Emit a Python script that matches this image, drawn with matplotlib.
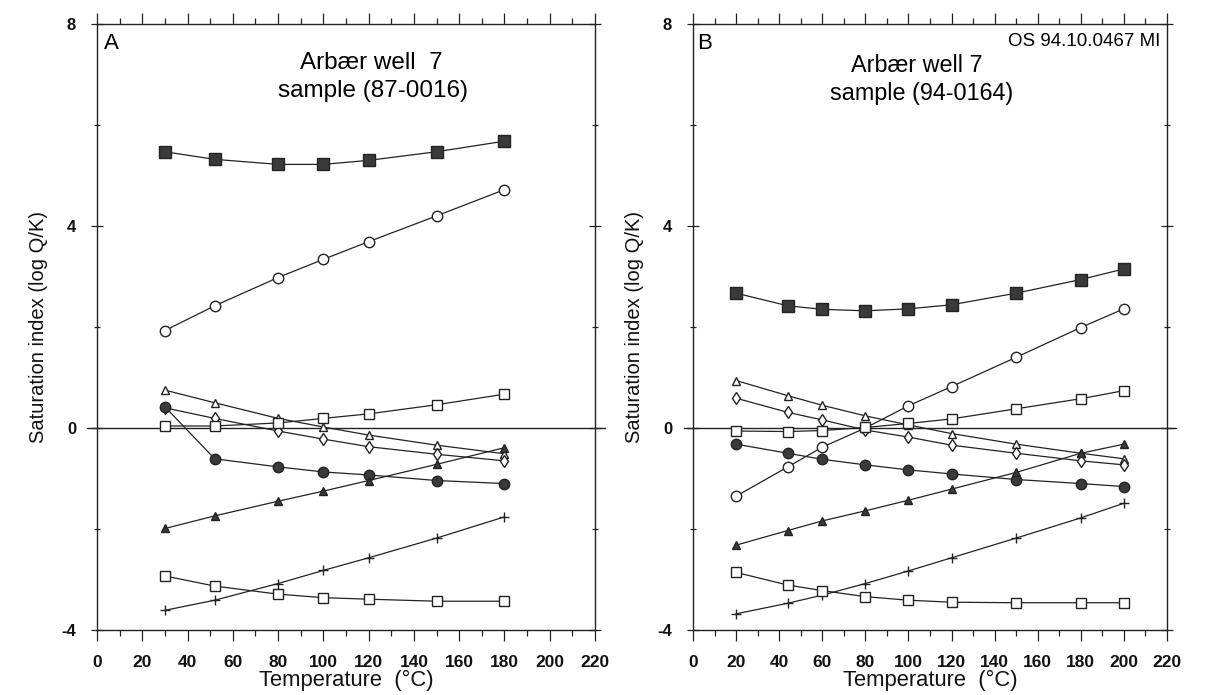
import matplotlib
matplotlib.use("Agg")
import matplotlib.pyplot as plt
from matplotlib.ticker import MultipleLocator

plt.rcParams['font.family'] = ['Liberation Sans', 'DejaVu Sans']
plt.rcParams['axes.unicode_minus'] = False

# panel A: sample 87-0016
temp_a = [30, 52, 80, 100, 120, 150, 180]
a_sq_filled = [5.47, 5.32, 5.22, 5.22, 5.30, 5.47, 5.68]
a_circ_open = [1.93, 2.42, 2.98, 3.34, 3.69, 4.20, 4.72]
a_tri_open = [0.75, 0.50, 0.19, 0.02, -0.14, -0.34, -0.51]
a_circ_filled = [0.42, -0.61, -0.77, -0.87, -0.93, -1.04, -1.10]
a_diamond = [0.40, 0.19, -0.06, -0.22, -0.37, -0.52, -0.65]
a_sq_open_hi = [0.04, 0.04, 0.10, 0.19, 0.28, 0.46, 0.67]
a_tri_filled = [-1.99, -1.74, -1.45, -1.25, -1.04, -0.72, -0.39]
a_plus = [-3.61, -3.41, -3.08, -2.82, -2.57, -2.18, -1.76]
a_sq_open_lo = [-2.93, -3.13, -3.29, -3.36, -3.39, -3.43, -3.43]

# panel B: sample 94-0164
temp_b = [20, 44, 60, 80, 100, 120, 150, 180, 200]
b_sq_filled = [2.67, 2.42, 2.35, 2.32, 2.36, 2.44, 2.67, 2.94, 3.15]
b_circ_open = [-1.35, -0.77, -0.38, 0.00, 0.44, 0.82, 1.40, 1.99, 2.36]
b_tri_open = [0.94, 0.64, 0.45, 0.24, 0.06, -0.11, -0.32, -0.50, -0.61]
b_diamond = [0.59, 0.31, 0.16, -0.04, -0.18, -0.34, -0.50, -0.65, -0.73]
b_sq_open_hi = [-0.06, -0.07, -0.05, 0.01, 0.09, 0.18, 0.38, 0.58, 0.74]
b_circ_filled = [-0.32, -0.50, -0.62, -0.73, -0.83, -0.91, -1.02, -1.10, -1.16]
b_tri_filled = [-2.32, -2.03, -1.84, -1.64, -1.43, -1.21, -0.88, -0.50, -0.32]
b_plus = [-3.68, -3.47, -3.31, -3.08, -2.83, -2.57, -2.18, -1.78, -1.49]
b_sq_open_lo = [-2.86, -3.11, -3.22, -3.34, -3.41, -3.45, -3.46, -3.46, -3.46]

dark = '#3a3a3a'
styles = {
    'sq_filled': dict(marker='s', ms=8, mfc=dark, mec='#222222'),
    'circ_open': dict(marker='o', ms=7.5, mfc='white', mec='#222222'),
    'tri_open': dict(marker='^', ms=6, mfc='white', mec='#222222'),
    'circ_filled': dict(marker='o', ms=7.5, mfc=dark, mec='#222222'),
    'diamond': dict(marker='d', ms=6, mfc='white', mec='#222222'),
    'sq_open_hi': dict(marker='s', ms=7.5, mfc='white', mec='#222222'),
    'tri_filled': dict(marker='^', ms=6, mfc=dark, mec='#222222'),
    'plus': dict(marker='+', ms=7, mec='#222222'),
    'sq_open_lo': dict(marker='s', ms=7.5, mfc='white', mec='#222222'),
}

series_a = {
    'sq_filled': a_sq_filled, 'circ_open': a_circ_open, 'tri_open': a_tri_open,
    'diamond': a_diamond, 'circ_filled': a_circ_filled, 'sq_open_hi': a_sq_open_hi,
    'tri_filled': a_tri_filled, 'plus': a_plus, 'sq_open_lo': a_sq_open_lo,
}
series_b = {
    'sq_filled': b_sq_filled, 'circ_open': b_circ_open, 'tri_open': b_tri_open,
    'diamond': b_diamond, 'circ_filled': b_circ_filled, 'sq_open_hi': b_sq_open_hi,
    'tri_filled': b_tri_filled, 'plus': b_plus, 'sq_open_lo': b_sq_open_lo,
}

fig = plt.figure(figsize=(12.08, 6.95), dpi=100)
W, H = 1208.0, 695.0
ax_a = fig.add_axes([97 / W, 1 - 630 / H, (595 - 97) / W, (630 - 24) / H])
ax_b = fig.add_axes([693 / W, 1 - 630 / H, (1167 - 693) / W, (630 - 24) / H])


def setup(ax):
    ax.set_xlim(0, 220)
    ax.set_ylim(-4, 8)
    ax.xaxis.set_major_locator(MultipleLocator(20))
    ax.xaxis.set_minor_locator(MultipleLocator(10))
    ax.yaxis.set_major_locator(MultipleLocator(4))
    ax.yaxis.set_minor_locator(MultipleLocator(2))
    ax.tick_params(which='both', direction='out', top=True, right=True,
                   width=0.9, colors='#222222', labelcolor='#111111')
    ax.tick_params(which='major', length=8)
    ax.tick_params(which='minor', length=4)
    ax.tick_params(axis='x', which='major', pad=10, labelsize=12.5)
    ax.tick_params(axis='y', which='both', right=True, direction='inout')
    ax.tick_params(axis='y', which='major', pad=11, labelsize=12)
    for lab in ax.get_xticklabels() + ax.get_yticklabels():
        lab.set_fontweight('bold')
    for s in ax.spines.values():
        s.set_linewidth(1.0)
        s.set_color('#222222')
    ax.axhline(0, xmin=-0.02, xmax=1.02, color='#222222', lw=1.0, clip_on=False, zorder=1)
    ax.set_xlabel('Temperature  (°C)', fontsize=15.8, labelpad=0, color='#111111')
    ax.set_ylabel('Saturation index (log Q/K)', fontsize=14.5, labelpad=10, color='#111111')


for ax, temps, series in [(ax_a, temp_a, series_a), (ax_b, temp_b, series_b)]:
    setup(ax)
    for key, vals in series.items():
        ax.plot(temps, vals, color='#222222', lw=0.9, mew=1.0, zorder=3, **styles[key])

ax_a.text(0.013, 0.985, 'A', transform=ax_a.transAxes, ha='left', va='top', fontsize=16)
ax_a.text(121, 7.23, 'Arbær well  7', ha='center', va='center', fontsize=17.5)
ax_a.text(122, 6.67, 'sample (87-0016)', ha='center', va='center', fontsize=17.5)

ax_b.text(0.008, 0.985, 'B', transform=ax_b.transAxes, ha='left', va='top', fontsize=16)
ax_b.text(0.985, 0.985, 'OS 94.10.0467 MI', transform=ax_b.transAxes, ha='right', va='top',
          fontsize=13.5)
ax_b.text(104, 7.17, 'Arbær well 7', ha='center', va='center', fontsize=16.8)
ax_b.text(106, 6.62, 'sample (94-0164)', ha='center', va='center', fontsize=16.8)

fig.savefig('out.png', dpi=100)
